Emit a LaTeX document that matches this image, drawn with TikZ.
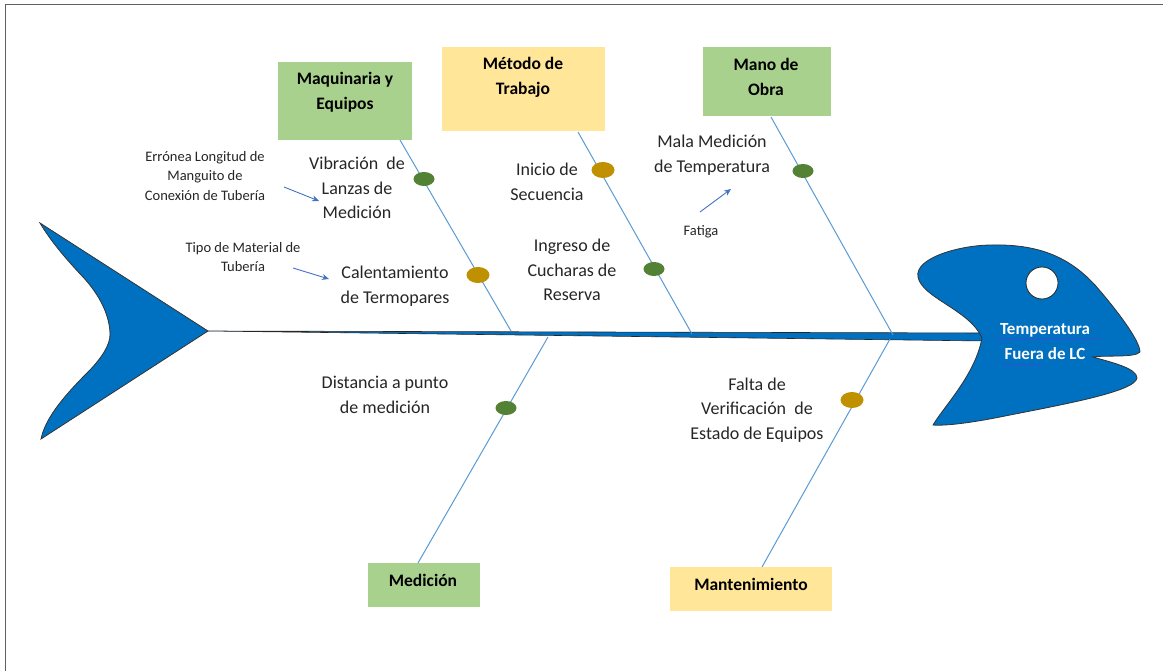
\documentclass[tikz,border=0pt]{standalone}
\usepackage{fontspec}
\setmainfont{Carlito}
\usetikzlibrary{shapes.geometric,arrows.meta}
\definecolor{fishblue}{HTML}{0070C0}
\definecolor{bonecol}{HTML}{5B9BD5}
\definecolor{boxgreen}{HTML}{A9D18E}
\definecolor{boxyellow}{HTML}{FFE699}
\definecolor{dotgreen}{HTML}{548235}
\definecolor{dotgold}{HTML}{BF9000}
\definecolor{arrcol}{HTML}{4472C4}
\definecolor{framecol}{HTML}{606060}
\tikzset{
  gbox/.style={rectangle, fill=boxgreen, inner sep=0pt},
  ybox/.style={rectangle, fill=boxyellow, inner sep=0pt},
  boxtext/.style={align=center, font=\fontsize{17.5}{25}\selectfont\bfseries, inner sep=0pt},
  lbl/.style={align=center, font=\fontsize{18}{24.5}\selectfont, inner sep=0pt, text=black!85},
  slbl/.style={align=center, font=\fontsize{14.5}{19.5}\selectfont, inner sep=0pt, text=black!85},
  bone/.style={draw=bonecol, line width=1pt},
  gdot/.style={ellipse, fill=dotgreen, minimum width=21pt, minimum height=14pt, inner sep=0pt},
  odot/.style={ellipse, fill=dotgold, minimum width=23pt, minimum height=16pt, inner sep=0pt},
  smarrow/.style={draw=arrcol, line width=0.9pt, -{Stealth[length=7pt,width=6pt]}},
  fishpart/.style={fill=fishblue, draw=black!80, line width=0.8pt},
}
\begin{document}
\begin{tikzpicture}[x=1pt,y=-1pt]
\useasboundingbox (0,0) rectangle (1163,671);
\fill[white] (0,0) rectangle (1163,671);
% frame (top and left edges)
\draw[framecol, line width=1pt] (5,671) -- (5,5) -- (1163,5);

% tail
\draw[fishpart] (40,223) -- (208,331) -- (41,439)
  .. controls (45,420) and (60,400) .. (87,373)
  .. controls (100,360) and (111,345) .. (110,333)
  .. controls (109,310) and (95,290) .. (83,277)
  .. controls (65,258) and (50,240) .. (40,223) -- cycle;

% spine
\coordinate (tailtip) at (208,331);
\coordinate (headjoin) at (985,337);
\draw[fill=fishblue, draw=black!85, line width=0.6pt] (tailtip) -- (985,333) -- (985,341) -- cycle;

% head
\draw[fishpart] (982,338)
  .. controls (970,310) and (922,298) .. (918,277)
  .. controls (914,258) and (960,245) .. (992,245)
  .. controls (1040,244) and (1070,258) .. (1095,285)
  .. controls (1115,308) and (1140,340) .. (1140,352)
  .. controls (1135,358) and (1105,355) .. (1093,357)
  .. controls (1110,362) and (1137,368) .. (1137,378)
  .. controls (1135,392) and (1060,405) .. (1000,417)
  .. controls (970,423) and (945,426) .. (933,425)
  .. controls (945,405) and (975,375) .. (982,338) -- cycle;
\node[circle, fill=white, draw=black!85, line width=0.8pt, minimum size=32pt, inner sep=0pt] (eye) at (1042,283) {};
\node[boxtext, text=white, font=\fontsize{17}{25}\selectfont\bfseries] (effect) at (1045,342) {Temperatura\\Fuera de LC};
\draw[arrcol!70!blue, line width=0.8pt] (996,338.5) -- (1101,338.5);
\draw[arrcol!70!blue, line width=0.8pt] (1001,364) -- (1043,364);

% boxes
\node[gbox, minimum width=134pt, minimum height=78pt] (mq) at (345,101) {};
\node[boxtext] (mqt) at (345,92) {Maquinaria y\\Equipos};
\node[ybox, minimum width=163pt, minimum height=84pt] (mt) at (523.5,89) {};
\node[boxtext] (mtt) at (523,77) {Método de\\Trabajo};
\node[gbox, minimum width=128pt, minimum height=69pt] (mo) at (767,81.5) {};
\node[boxtext] (mot) at (766,77) {Mano de\\Obra};
\node[gbox, minimum width=112pt, minimum height=44pt] (me) at (424,585) {};
\node[boxtext] (met) at (423,580) {Medición};
\node[ybox, minimum width=162pt, minimum height=44pt] (ma) at (751,589) {};
\node[boxtext] (mat) at (751,584) {Mantenimiento};

% bone coordinates
\coordinate (b1s) at (400,140);  \coordinate (b1e) at (511,331);
\coordinate (b2s) at (578,132);  \coordinate (b2e) at (692,334);
\coordinate (b3s) at (771,117);  \coordinate (b3e) at (893,335);
\coordinate (b4s) at (548,337);  \coordinate (b4e) at (418,563);
\coordinate (b5s) at (890,339);  \coordinate (b5e) at (762,567);
\draw[bone] (b1s) -- (b1e);
\draw[bone] (b2s) -- (b2e);
\draw[bone] (b3s) -- (b3e);
\draw[bone] (b4s) -- (b4e);
\draw[bone] (b5s) -- (b5e);

% dots
\node[gdot] (d1) at (424,179) {};
\node[odot] (d2) at (478,275) {};
\node[odot] (d3) at (603,170) {};
\node[gdot] (d4) at (654,269) {};
\node[gdot] (d5) at (803,171) {};
\node[gdot] (d6) at (506,408) {};
\node[odot] (d7) at (852,400) {};

% labels
\node[lbl] (l1) at (357,188) {Vibración\ \ de\\Lanzas de\\Medición};
\node[lbl] (l2) at (395,286) {Calentamiento\\de Termopares};
\node[lbl] (l3) at (547,182) {Inicio\ de\\Secuencia};
\node[lbl] (l4) at (572,270) {Ingreso de\\Cucharas de\\Reserva};
\node[lbl] (l5) at (712,155) {Mala Medición\\de Temperatura};
\node[lbl] (l6) at (385,395) {Distancia a punto\\de medición};
\node[lbl] (l7) at (757,410) {Falta de\\Verificación\ \ de\\Estado de Equipos};
\node[slbl] (s1) at (205,176) {Errónea Longitud de\\Manguito de\\Conexión de Tubería};
\node[slbl] (s2) at (243,257) {Tipo de Material de\\Tubería};
\node[slbl] (s3) at (701,232) {Fatiga};

% small arrows
\coordinate (a1s) at (284,187); \coordinate (a1e) at (319,201);
\coordinate (a2s) at (293,268); \coordinate (a2e) at (329,279);
\coordinate (a3s) at (700,212); \coordinate (a3e) at (731,189);
\draw[smarrow] (a1s) -- (a1e);
\draw[smarrow] (a2s) -- (a2e);
\draw[smarrow] (a3s) -- (a3e);
\end{tikzpicture}
\end{document}
